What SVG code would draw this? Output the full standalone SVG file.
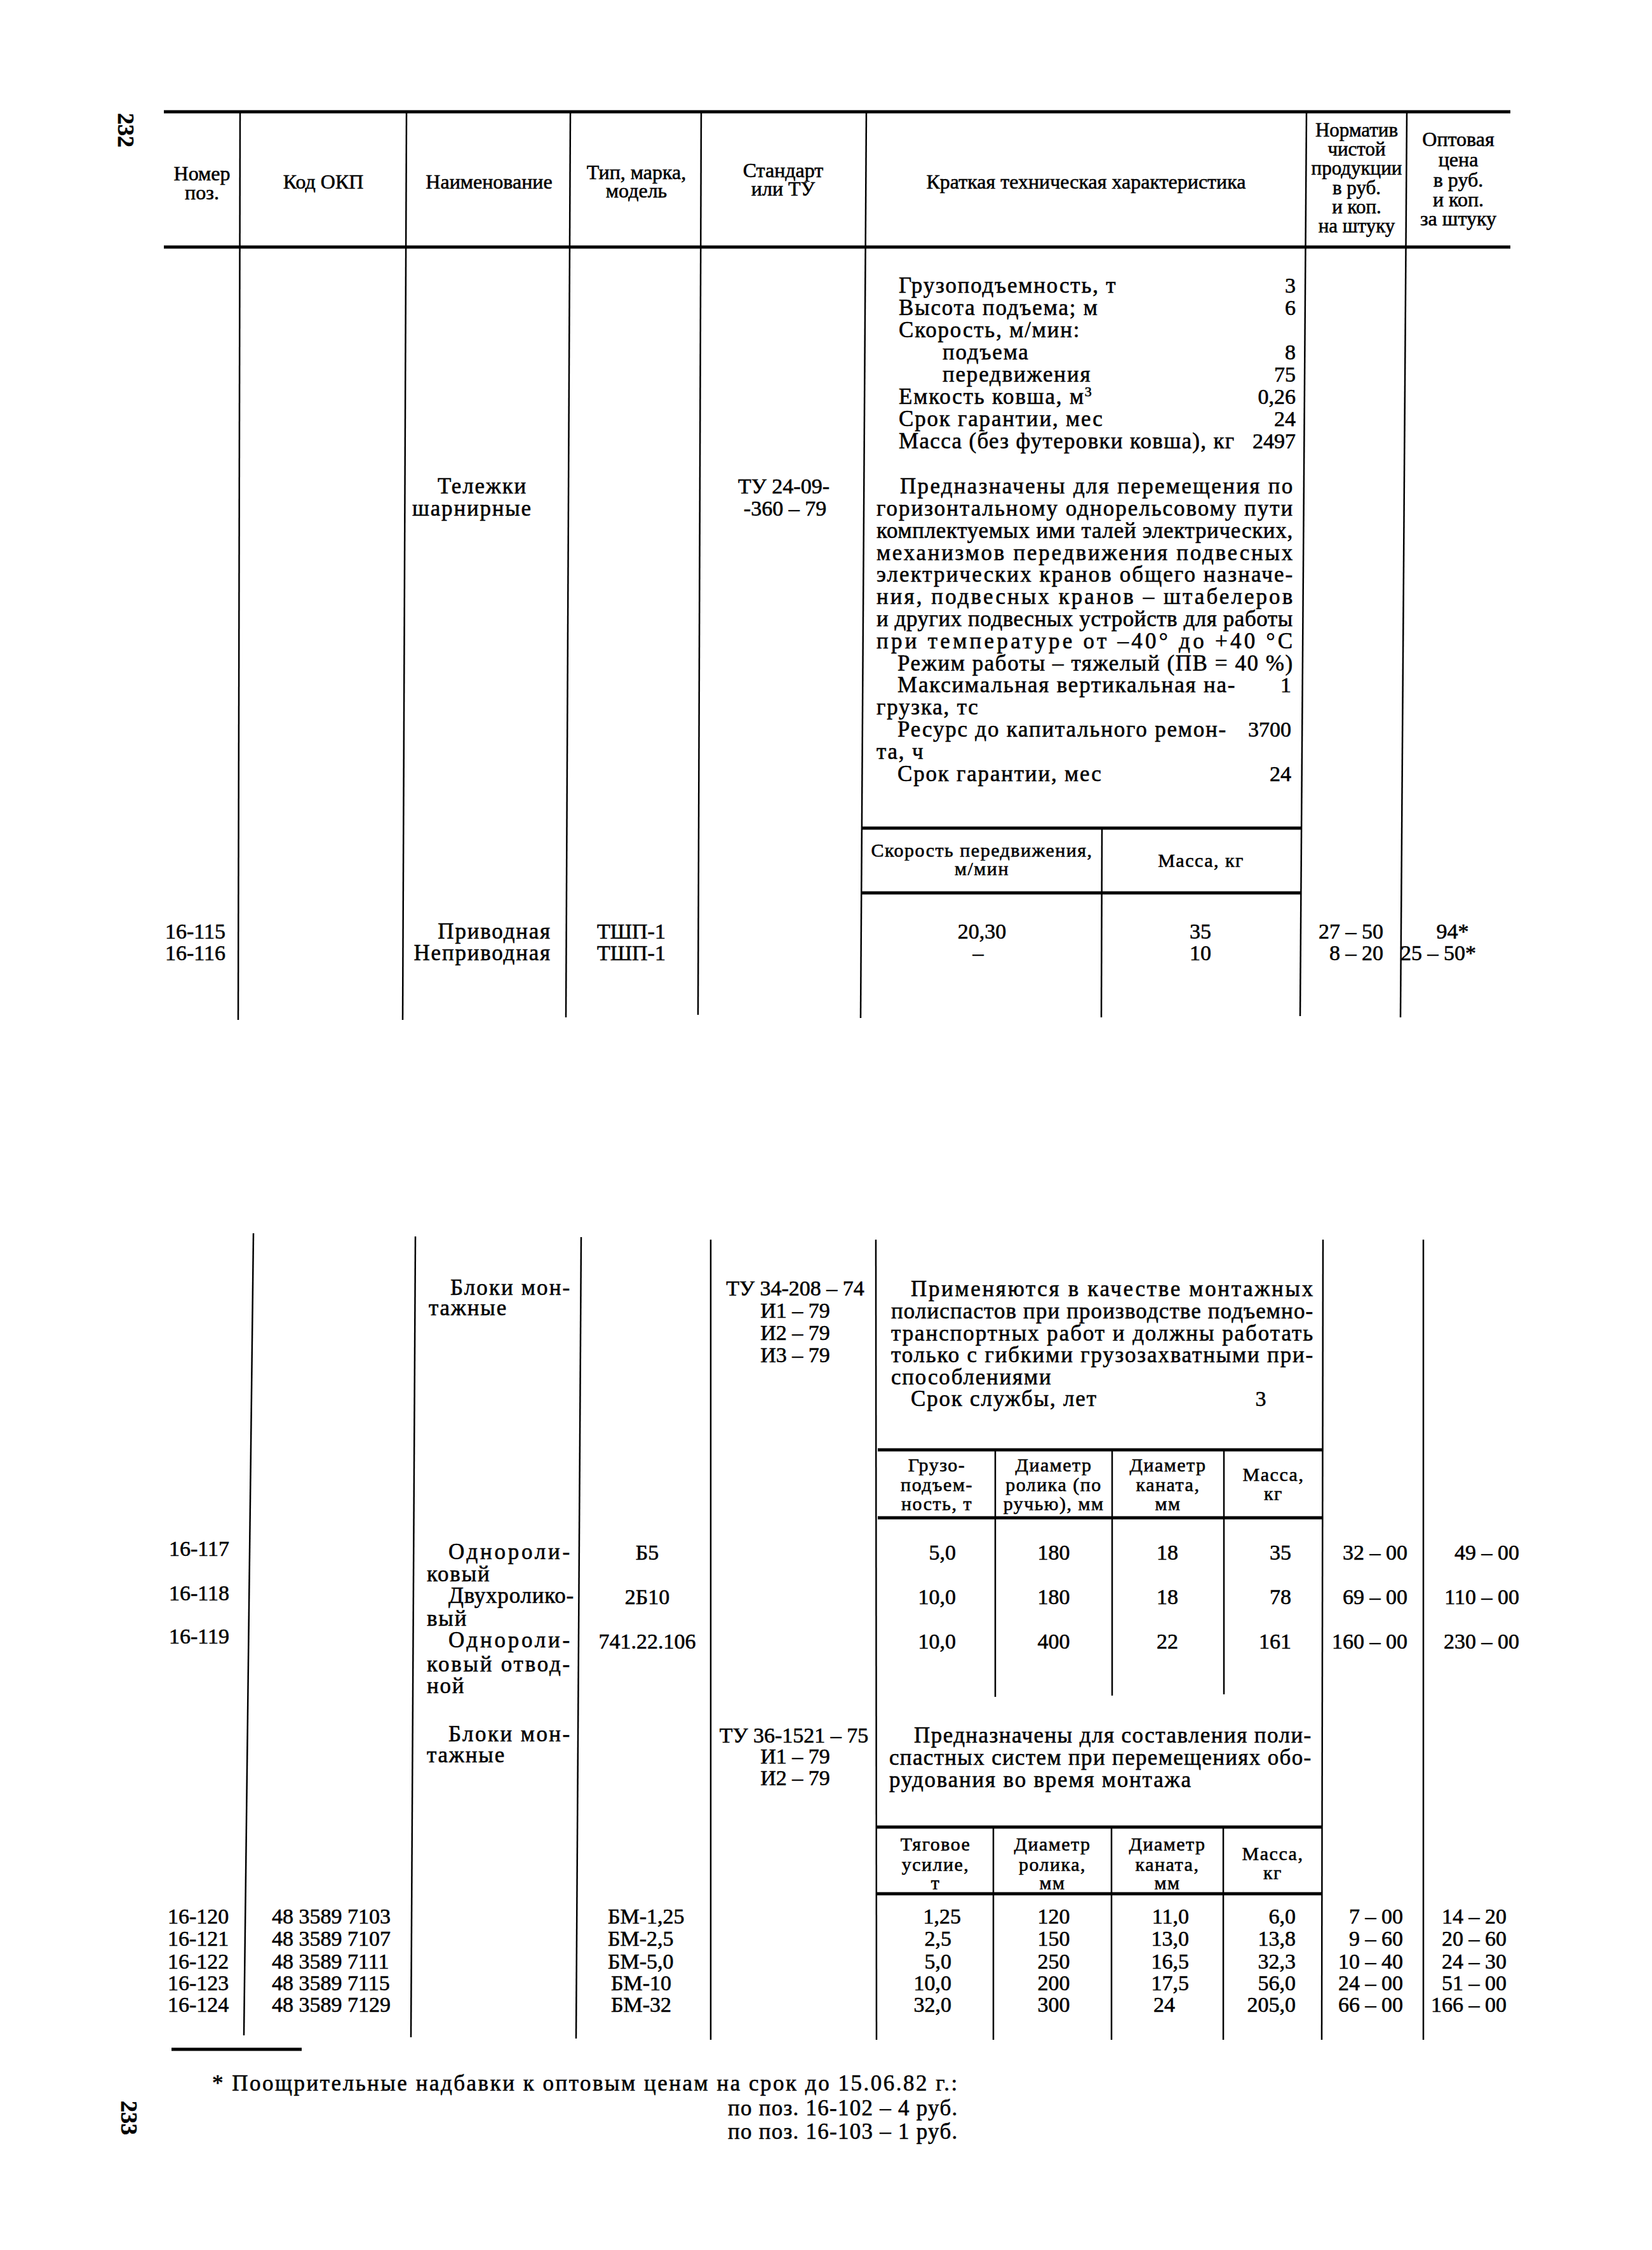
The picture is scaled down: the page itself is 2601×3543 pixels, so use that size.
<svg xmlns="http://www.w3.org/2000/svg" width="2601" height="3543" viewBox="0 0 2601 3543">
<style>
text{font-family:"Liberation Serif","Times New Roman",serif;font-size:34px;fill:#000;stroke:#000;stroke-width:0.6px}
.w{font-size:35px;letter-spacing:1.8px}
.h{font-size:32px}
.n{font-size:31px}
.o{font-size:32px}
.s{font-size:30px;letter-spacing:1.5px}
.m{text-anchor:middle}
.e{text-anchor:end}
.pg{font-size:36px;font-weight:bold}
.ln{stroke:#000;stroke-width:2.5;fill:none}
.hv{stroke:#000;stroke-width:5;fill:none}
</style>
<rect width="2601" height="3543" fill="#fff"/>

<g id="page-numbers">
<text class="pg m" transform="translate(198,205) rotate(90)" dy="12">232</text>
<text class="pg m" transform="translate(203,3335) rotate(90)" dy="12">233</text>
</g>

<g id="connectors">
<line class="hv" x1="258" y1="176" x2="2378" y2="176"/>
<line class="hv" x1="258" y1="389" x2="2378" y2="389"/>
<line class="ln" x1="378" y1="176" x2="375" y2="1606"/>
<line class="ln" x1="640" y1="176" x2="634" y2="1606"/>
<line class="ln" x1="898" y1="176" x2="891" y2="1602"/>
<line class="ln" x1="1104" y1="176" x2="1099" y2="1598"/>
<line class="ln" x1="1364" y1="176" x2="1355" y2="1603"/>
<line class="ln" x1="2057" y1="176" x2="2047" y2="1600"/>
<line class="ln" x1="2215" y1="176" x2="2205" y2="1602"/>
<line class="hv" x1="1357" y1="1304" x2="2050" y2="1304"/>
<line class="hv" x1="1356" y1="1406" x2="2049" y2="1406"/>
<line class="ln" x1="1735" y1="1304" x2="1734" y2="1602"/>

<line class="ln" x1="399" y1="1942" x2="384" y2="3205"/>
<line class="ln" x1="654" y1="1947" x2="647" y2="3208"/>
<line class="ln" x1="915" y1="1948" x2="907" y2="3210"/>
<line class="ln" x1="1119" y1="1952" x2="1119" y2="3212"/>
<line class="ln" x1="1379" y1="1952" x2="1380" y2="3212"/>
<line class="ln" x1="2083" y1="1952" x2="2081" y2="3212"/>
<line class="ln" x1="2241" y1="1952" x2="2241" y2="3212"/>
<line class="hv" x1="1382" y1="2283" x2="2083" y2="2283"/>
<line class="hv" x1="1382" y1="2390" x2="2083" y2="2390"/>
<line class="ln" x1="1567" y1="2283" x2="1567" y2="2672"/>
<line class="ln" x1="1751" y1="2283" x2="1751" y2="2670"/>
<line class="ln" x1="1927" y1="2283" x2="1927" y2="2668"/>
<line class="hv" x1="1380" y1="2877" x2="2082" y2="2877"/>
<line class="hv" x1="1380" y1="2982" x2="2082" y2="2982"/>
<line class="ln" x1="1564" y1="2877" x2="1564" y2="3212"/>
<line class="ln" x1="1750" y1="2877" x2="1750" y2="3212"/>
<line class="ln" x1="1926" y1="2877" x2="1926" y2="3212"/>
<line class="hv" x1="270" y1="3227" x2="475" y2="3227"/>
</g>

<g id="header">
<text class="h m" x="318" y="284">Номер</text>
<text class="h m" x="318" y="314">поз.</text>
<text class="h m" x="509" y="297">Код ОКП</text>
<text class="h m" x="770" y="297">Наименование</text>
<text class="h m" x="1002" y="282">Тип, марка,</text>
<text class="h m" x="1002" y="311">модель</text>
<text class="h m" x="1233" y="279">Стандарт</text>
<text class="h m" x="1233" y="308">или ТУ</text>
<text class="h m" x="1710" y="297">Краткая техническая характеристика</text>
<text class="n m" x="2136" y="215">Норматив</text>
<text class="n m" x="2136" y="245">чистой</text>
<text class="n m" x="2136" y="275">продукции</text>
<text class="n m" x="2136" y="306">в руб.</text>
<text class="n m" x="2136" y="336">и коп.</text>
<text class="n m" x="2136" y="366">на штуку</text>
<text class="o m" x="2296" y="230">Оптовая</text>
<text class="o m" x="2296" y="262">цена</text>
<text class="o m" x="2296" y="294">в руб.</text>
<text class="o m" x="2296" y="325">и коп.</text>
<text class="o m" x="2296" y="355">за штуку</text>
</g>

<g id="specs-top">
<text class="w" x="1415" y="461">Грузоподъемность, т</text><text class="e" x="2040" y="461">3</text>
<text class="w" x="1415" y="496">Высота подъема; м</text><text class="e" x="2040" y="496">6</text>
<text class="w" x="1415" y="531">Скорость, м/мин:</text>
<text class="w" x="1484" y="566">подъема</text><text class="e" x="2040" y="566">8</text>
<text class="w" x="1484" y="601">передвижения</text><text class="e" x="2040" y="601">75</text>
<text class="w" x="1415" y="636">Емкость ковша, м<tspan font-size="22" dy="-12">3</tspan></text><text class="e" x="2040" y="636">0,26</text>
<text class="w" x="1415" y="671">Срок гарантии, мес</text><text class="e" x="2040" y="671">24</text>
<text class="w" x="1415" y="706" textLength="530" lengthAdjust="spacing">Масса (без футеровки ковша), кг</text><text class="e" x="2040" y="706">2497</text>
</g>

<g id="node-telezhki">
<text class="w" x="689" y="777">Тележки</text>
<text class="w" x="649" y="812">шарнирные</text>
<text class="m" x="1234" y="777">ТУ 24-09-</text>
<text class="m" x="1236" y="812">-360 – 79</text>
<text class="w" x="1417" y="777" textLength="620" lengthAdjust="spacing">Предназначены для перемещения по</text>
<text class="w" x="1380" y="812" textLength="657" lengthAdjust="spacing">горизонтальному однорельсовому пути</text>
<text class="w" x="1380" y="847" textLength="657" lengthAdjust="spacing">комплектуемых ими талей электрических,</text>
<text class="w" x="1380" y="882" textLength="657" lengthAdjust="spacing">механизмов передвижения подвесных</text>
<text class="w" x="1380" y="916" textLength="657" lengthAdjust="spacing">электрических кранов общего назначе-</text>
<text class="w" x="1380" y="951" textLength="657" lengthAdjust="spacing">ния, подвесных кранов – штабелеров</text>
<text class="w" x="1380" y="986" textLength="657" lengthAdjust="spacing">и других подвесных устройств для работы</text>
<text class="w" x="1380" y="1021" textLength="657" lengthAdjust="spacing">при температуре от –40° до +40 °С</text>
<text class="w" x="1413" y="1056" textLength="624" lengthAdjust="spacing">Режим работы – тяжелый (ПВ = 40 %)</text>
<text class="w" x="1413" y="1090">Максимальная вертикальная на-</text><text class="e" x="2033" y="1090">1</text>
<text class="w" x="1380" y="1125">грузка, тс</text>
<text class="w" x="1413" y="1160">Ресурс до капитального ремон-</text><text class="e" x="2033" y="1160">3700</text>
<text class="w" x="1380" y="1195">та, ч</text>
<text class="w" x="1413" y="1230">Срок гарантии, мес</text><text class="e" x="2033" y="1230">24</text>
<text class="s m" x="1546" y="1349">Скорость передвижения,</text>
<text class="s m" x="1546" y="1378">м/мин</text>
<text class="s m" x="1891" y="1365">Масса, кг</text>
</g>

<g id="row-16-115">
<text x="260" y="1478">16-115</text>
<text class="w e" x="868" y="1478">Приводная</text>
<text x="940" y="1478">ТШП-1</text>
<text class="m" x="1546" y="1478">20,30</text>
<text class="m" x="1890" y="1478">35</text>
<text class="e" x="2178" y="1478">27 – 50</text>
<text class="m" x="2287" y="1478">94*</text>
</g>
<g id="row-16-116">
<text x="260" y="1512">16-116</text>
<text class="w e" x="868" y="1512">Неприводная</text>
<text x="940" y="1512">ТШП-1</text>
<text class="m" x="1540" y="1512">–</text>
<text class="m" x="1890" y="1512">10</text>
<text class="e" x="2178" y="1512">8 – 20</text>
<text x="2205" y="1512">25 – 50*</text>
</g>

<g id="node-bloki-1">
<text class="w" x="709" y="2039" textLength="190" lengthAdjust="spacing">Блоки мон-</text>
<text class="w" x="675" y="2071">тажные</text>
<text class="m" x="1252" y="2040">ТУ 34-208 – 74</text>
<text class="m" x="1252" y="2075">И1 – 79</text>
<text class="m" x="1252" y="2110">И2 – 79</text>
<text class="m" x="1252" y="2145">И3 – 79</text>
<text class="w" x="1434" y="2041" textLength="635" lengthAdjust="spacing">Применяются в качестве монтажных</text>
<text class="w" x="1403" y="2076" textLength="666" lengthAdjust="spacing">полиспастов при производстве подъемно-</text>
<text class="w" x="1403" y="2111" textLength="666" lengthAdjust="spacing">транспортных работ и должны работать</text>
<text class="w" x="1403" y="2145" textLength="666" lengthAdjust="spacing">только с гибкими грузозахватными при-</text>
<text class="w" x="1403" y="2180">способлениями</text>
<text class="w" x="1434" y="2214">Срок службы, лет</text><text class="m" x="1985" y="2214">3</text>
<text class="s m" x="1475" y="2317">Грузо-</text>
<text class="s m" x="1475" y="2348">подъем-</text>
<text class="s m" x="1475" y="2378">ность, т</text>
<text class="s m" x="1659" y="2317">Диаметр</text>
<text class="s m" x="1659" y="2348">ролика (по</text>
<text class="s m" x="1659" y="2378">ручью), мм</text>
<text class="s m" x="1839" y="2317">Диаметр</text>
<text class="s m" x="1839" y="2348">каната,</text>
<text class="s m" x="1839" y="2378">мм</text>
<text class="s m" x="2005" y="2332">Масса,</text>
<text class="s m" x="2005" y="2362">кг</text>
</g>

<g id="row-16-117">
<text x="266" y="2450">16-117</text>
<text class="w" x="706" y="2455" textLength="193" lengthAdjust="spacing">Однороли-</text>
<text class="w" x="672" y="2490">ковый</text>
<text class="m" x="1019" y="2456">Б5</text>
<text class="e" x="1505" y="2456">5,0</text>
<text class="m" x="1659" y="2456">180</text>
<text class="m" x="1838" y="2456">18</text>
<text class="e" x="2033" y="2456">35</text>
<text class="e" x="2216" y="2456">32 – 00</text>
<text class="e" x="2392" y="2456">49 – 00</text>
</g>
<g id="row-16-118">
<text x="266" y="2520">16-118</text>
<text class="w" x="706" y="2524" textLength="199" lengthAdjust="spacing">Двухролико-</text>
<text class="w" x="672" y="2560">вый</text>
<text class="m" x="1019" y="2526">2Б10</text>
<text class="e" x="1505" y="2526">10,0</text>
<text class="m" x="1659" y="2526">180</text>
<text class="m" x="1838" y="2526">18</text>
<text class="e" x="2033" y="2526">78</text>
<text class="e" x="2216" y="2526">69 – 00</text>
<text class="e" x="2392" y="2526">110 – 00</text>
</g>
<g id="row-16-119">
<text x="266" y="2588">16-119</text>
<text class="w" x="706" y="2594" textLength="193" lengthAdjust="spacing">Однороли-</text>
<text class="w" x="672" y="2632" textLength="227" lengthAdjust="spacing">ковый отвод-</text>
<text class="w" x="672" y="2666">ной</text>
<text class="m" x="1019" y="2596">741.22.106</text>
<text class="e" x="1505" y="2596">10,0</text>
<text class="m" x="1659" y="2596">400</text>
<text class="m" x="1838" y="2596">22</text>
<text class="e" x="2033" y="2596">161</text>
<text class="e" x="2216" y="2596">160 – 00</text>
<text class="e" x="2392" y="2596">230 – 00</text>
</g>

<g id="node-bloki-2">
<text class="w" x="706" y="2742" textLength="193" lengthAdjust="spacing">Блоки мон-</text>
<text class="w" x="672" y="2775">тажные</text>
<text class="m" x="1250" y="2744">ТУ 36-1521 – 75</text>
<text class="m" x="1252" y="2777">И1 – 79</text>
<text class="m" x="1252" y="2811">И2 – 79</text>
<text class="w" x="1439" y="2744" textLength="627" lengthAdjust="spacing">Предназначены для составления поли-</text>
<text class="w" x="1400" y="2779" textLength="666" lengthAdjust="spacing">спастных систем при перемещениях обо-</text>
<text class="w" x="1400" y="2814">рудования во время монтажа</text>
<text class="s m" x="1473" y="2914">Тяговое</text>
<text class="s m" x="1473" y="2946">усилие,</text>
<text class="s m" x="1473" y="2975">т</text>
<text class="s m" x="1657" y="2914">Диаметр</text>
<text class="s m" x="1657" y="2946">ролика,</text>
<text class="s m" x="1657" y="2975">мм</text>
<text class="s m" x="1838" y="2914">Диаметр</text>
<text class="s m" x="1838" y="2946">каната,</text>
<text class="s m" x="1838" y="2975">мм</text>
<text class="s m" x="2004" y="2929">Масса,</text>
<text class="s m" x="2004" y="2959">кг</text>
</g>

<g id="row-16-120">
<text x="264" y="3029">16-120</text>
<text x="428" y="3029">48 3589 7103</text>
<text x="957" y="3029">БМ-1,25</text>
<text class="e" x="1513" y="3029">1,25</text>
<text class="m" x="1659" y="3029">120</text>
<text class="e" x="1872" y="3029">11,0</text>
<text class="e" x="2040" y="3029">6,0</text>
<text class="e" x="2209" y="3029">7 – 00</text>
<text class="e" x="2372" y="3029">14 – 20</text>
</g>
<g id="row-16-121">
<text x="264" y="3064">16-121</text>
<text x="428" y="3064">48 3589 7107</text>
<text x="957" y="3064">БМ-2,5</text>
<text class="e" x="1498" y="3064">2,5</text>
<text class="m" x="1659" y="3064">150</text>
<text class="e" x="1872" y="3064">13,0</text>
<text class="e" x="2040" y="3064">13,8</text>
<text class="e" x="2209" y="3064">9 – 60</text>
<text class="e" x="2372" y="3064">20 – 60</text>
</g>
<g id="row-16-122">
<text x="264" y="3100">16-122</text>
<text x="428" y="3100">48 3589 7111</text>
<text x="957" y="3100">БМ-5,0</text>
<text class="e" x="1498" y="3100">5,0</text>
<text class="m" x="1659" y="3100">250</text>
<text class="e" x="1872" y="3100">16,5</text>
<text class="e" x="2040" y="3100">32,3</text>
<text class="e" x="2209" y="3100">10 – 40</text>
<text class="e" x="2372" y="3100">24 – 30</text>
</g>
<g id="row-16-123">
<text x="264" y="3134">16-123</text>
<text x="428" y="3134">48 3589 7115</text>
<text x="962" y="3134">БМ-10</text>
<text class="e" x="1498" y="3134">10,0</text>
<text class="m" x="1659" y="3134">200</text>
<text class="e" x="1872" y="3134">17,5</text>
<text class="e" x="2040" y="3134">56,0</text>
<text class="e" x="2209" y="3134">24 – 00</text>
<text class="e" x="2372" y="3134">51 – 00</text>
</g>
<g id="row-16-124">
<text x="264" y="3168">16-124</text>
<text x="428" y="3168">48 3589 7129</text>
<text x="962" y="3168">БМ-32</text>
<text class="e" x="1498" y="3168">32,0</text>
<text class="m" x="1659" y="3168">300</text>
<text class="e" x="1850" y="3168">24</text>
<text class="e" x="2040" y="3168">205,0</text>
<text class="e" x="2209" y="3168">66 – 00</text>
<text class="e" x="2372" y="3168">166 – 00</text>
</g>

<g id="footnote">
<text class="w" x="334" y="3292" textLength="1175" lengthAdjust="spacing">* Поощрительные надбавки к оптовым ценам на срок до 15.06.82 г.:</text>
<text class="w" x="1146" y="3331" textLength="363" lengthAdjust="spacing">по поз. 16-102 – 4 руб.</text>
<text class="w" x="1146" y="3368" textLength="363" lengthAdjust="spacing">по поз. 16-103 – 1 руб.</text>
</g>
</svg>
